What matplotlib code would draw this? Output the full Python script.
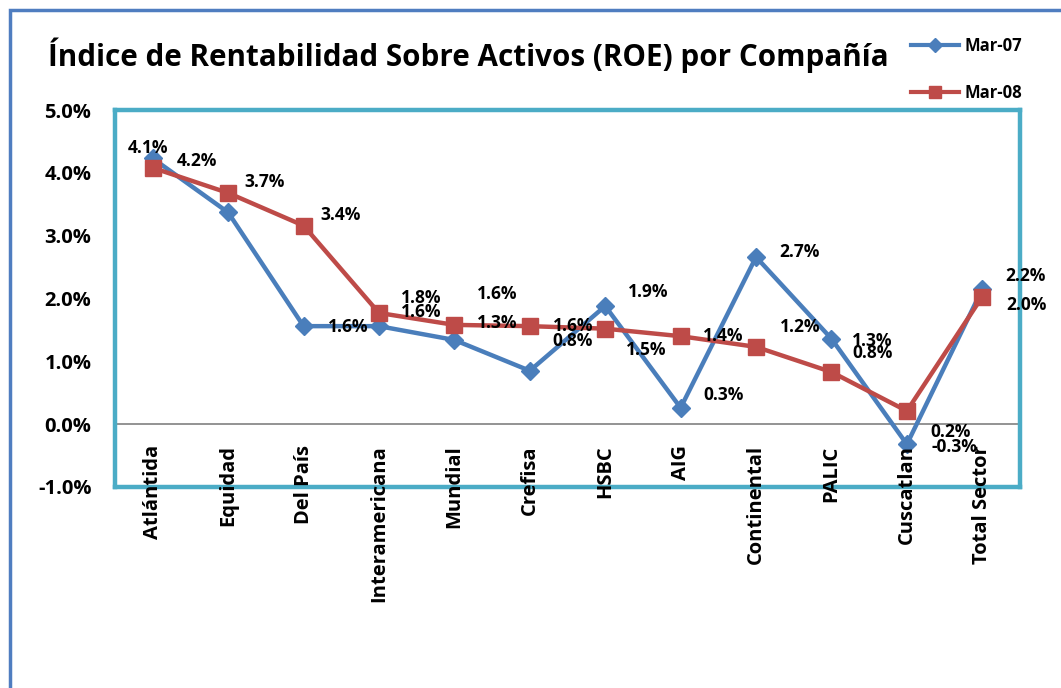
import matplotlib
matplotlib.use("Agg")
import matplotlib.pyplot as plt
from matplotlib.patches import Rectangle
from matplotlib.lines import Line2D

categories = ["Atlántida", "Equidad", "Del País", "Interamericana", "Mundial", "Crefisa",
              "HSBC", "AIG", "Continental", "PALIC", "Cuscatlan", "Total Sector"]
mar07 = [4.23, 3.37, 1.56, 1.56, 1.34, 0.85, 1.88, 0.26, 2.66, 1.36, -0.32, 2.15]
mar08 = [4.08, 3.68, 3.16, 1.77, 1.58, 1.56, 1.52, 1.40, 1.23, 0.83, 0.21, 2.03]
labels07 = ["4.1%", "", "1.6%", "1.6%", "1.3%", "0.8%", "1.9%", "0.3%", "2.7%", "1.3%", "-0.3%", "2.2%"]
labels08 = ["4.2%", "3.7%", "3.4%", "1.8%", "1.6%", "1.6%", "1.5%", "1.4%", "1.2%", "0.8%", "0.2%", "2.0%"]
yticks = [-1.0, 0.0, 1.0, 2.0, 3.0, 4.0, 5.0]
title = "Índice de Rentabilidad Sobre Activos (ROE) por Compañía"

# label offsets in pixels (dx right, dy down)
off07 = [(-5, -10), (0, 0), (45, 1), (42, -14), (43, -17), (43, -30), (43, -14),
         (43, -13), (43, -5), (41, 2), (48, 3), (43, -13)]
off08 = [(44, -7), (36, -11), (37, -11), (42, -15), (43, -31), (43, 0), (41, 21),
         (43, 0), (44, -20), (41, -19), (44, 21), (44, 8)]

plt.rcParams['font.family'] = ['Open Sans', 'DejaVu Sans']
BLUE = "#4A7EBB"
RED = "#BE4B48"

fig = plt.figure(figsize=(10.61, 6.88), dpi=100)
W, H = 1061, 688
ax = fig.add_axes([115 / W, 1 - 487 / H, (1020 - 115) / W, (487 - 110) / H])

x = list(range(len(categories)))
ax.plot(x, mar07, color=BLUE, lw=3.2, marker="D", ms=9, mfc=BLUE, mec=BLUE, zorder=3)
ax.plot(x, mar08, color=RED, lw=3.2, marker="s", ms=12, mfc=RED, mec=RED, zorder=4)
ax.axhline(0, color="#808080", lw=1.2, zorder=1)

for xs, vals, labs, offs in [(x, mar07, labels07, off07), (x, mar08, labels08, off08)]:
    for xi, v, t, (dx, dy) in zip(xs, vals, labs, offs):
        if t:
            ax.annotate(t, (xi, v), xytext=(dx * 0.72, -dy * 0.72), textcoords="offset points",
                        ha="center", va="center", fontsize=12.5, fontweight="bold", zorder=5)

ax.set_xlim(-0.5, len(categories) - 0.5)
ax.set_ylim(-1.0, 5.0)
ax.set_yticks(yticks)
ax.set_yticklabels([f"{t:.1f}%" for t in yticks], fontsize=14.5, fontweight="bold")
ax.set_xticks(x)
ax.set_xticklabels(categories, rotation=90, fontsize=14.5, fontweight="bold", va="top")
ax.tick_params(axis="x", length=0, pad=-30)
ax.tick_params(axis="y", length=0, pad=17)
for s in ax.spines.values():
    s.set_color("#4BACC6")
    s.set_linewidth(3.2)
    s.set_zorder(1.5)
ax.xaxis.set_zorder(6)

fig.text(48 / W, 1 - 55 / H, title, fontsize=21.3, fontweight="bold", ha="left", va="center")

# outer frame (left and top edges visible only)
fig.patches.append(Rectangle((10 / W, -0.05), 1.2, 1 - 10 / H + 0.05,
                             transform=fig.transFigure, fill=False, ec="#4F7DC0", lw=2.5))

handles = [Line2D([], [], color=BLUE, lw=3, marker="D", ms=7),
           Line2D([], [], color=RED, lw=3, marker="s", ms=9)]
leg = fig.legend(handles, ["Mar-07", "Mar-08"], loc="upper left",
                 bbox_to_anchor=(896 / W, 1 - 22 / H), frameon=False,
                 prop={"weight": "bold", "size": 12}, labelspacing=1.75,
                 handlelength=2.9, handletextpad=0.3)

fig.savefig("out.png", dpi=100)
